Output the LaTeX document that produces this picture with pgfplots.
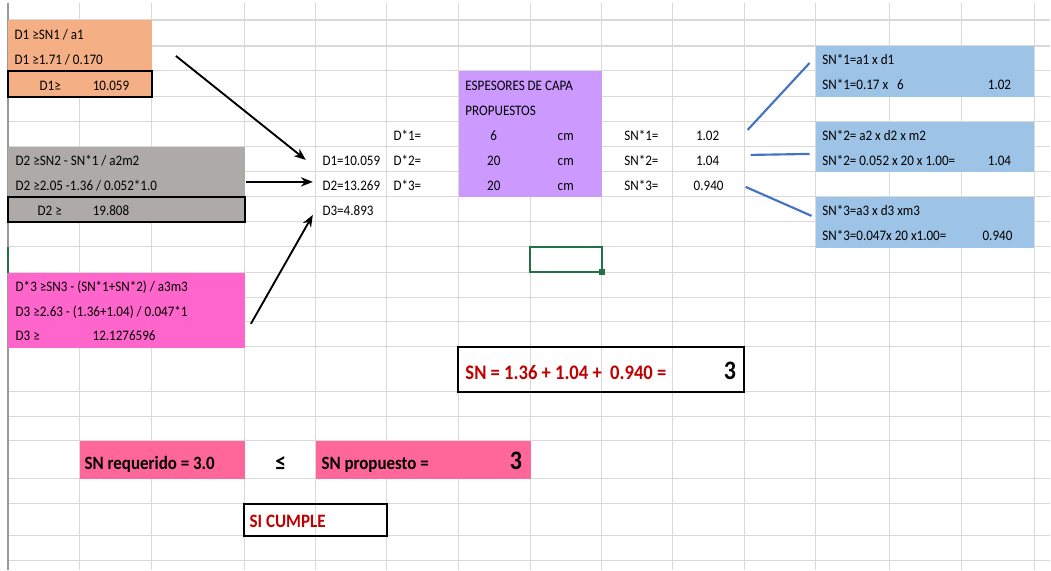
\documentclass[border=0pt]{standalone}
\usepackage{pgfplots}
\pgfplotsset{compat=1.18}
\usepackage{fontspec}
\setmainfont{Carlito}[FakeStretch=0.9]
\usetikzlibrary{arrows.meta}
\definecolor{gridgray}{HTML}{D9D9D9}
\definecolor{orangec}{HTML}{F4B084}
\definecolor{grayc}{HTML}{AEAAAA}
\definecolor{purplec}{HTML}{CC99FF}
\definecolor{bluec}{HTML}{9DC3E6}
\definecolor{pinkc}{HTML}{FF66CC}
\definecolor{pinkb}{HTML}{FF6699}
\definecolor{redc}{HTML}{C00000}
\definecolor{linec}{HTML}{4472C4}
\definecolor{selc}{HTML}{217346}
\newcommand{\nt}{\fontsize{10.9}{13}\selectfont}
\newcommand{\bt}{\fontsize{14.1}{17}\selectfont\bfseries}
\newcommand{\bs}{\fontsize{15.5}{18}\selectfont\bfseries}
\newcommand{\bc}{\fontsize{14.2}{17}\selectfont\bfseries}
\newcommand{\bigf}{\fontsize{20}{24}\selectfont\bfseries}
\begin{document}
\begin{tikzpicture}
\begin{axis}[
 scale only axis, width=788.25pt, height=427.5pt,
 xmin=0,xmax=1051,ymin=0,ymax=570, y dir=reverse,
 hide axis, clip=false,
]
% background
\addplot[draw=none, fill=white] coordinates {(0,0)(1051,0)(1051,570)(0,570)} -- cycle;
% grid
\addplot[gridgray, line width=0.8pt, unbounded coords=jump] coordinates {
(80,3)(80,570)(80,nan)(152,3)(152,570)(152,nan)(245,3)(245,570)(245,nan)
(316,3)(316,570)(316,nan)(387,3)(387,570)(387,nan)(459,3)(459,570)(459,nan)
(531,3)(531,570)(531,nan)(602,3)(602,570)(602,nan)(673,3)(673,570)(673,nan)
(745,3)(745,570)(745,nan)(816,3)(816,570)(816,nan)(890,3)(890,570)(890,nan)
(962,3)(962,570)(962,nan)(1035,3)(1035,570)(1035,nan)};
\addplot[gridgray, line width=0.8pt, unbounded coords=jump] coordinates {
(8,20)(1051,20)(nan,20)(8,46)(1051,46)(nan,46)(8,71)(1051,71)(nan,71)
(8,97)(1051,97)(nan,97)(8,122)(1051,122)(nan,122)(8,147)(1051,147)(nan,147)
(8,172)(1051,172)(nan,172)(8,197)(1051,197)(nan,197)(8,222)(1051,222)(nan,222)
(8,247)(1051,247)(nan,247)(8,273)(1051,273)(nan,273)(8,298)(1051,298)(nan,298)
(8,322)(1051,322)(nan,322)(8,347)(1051,347)(nan,347)(8,392)(1051,392)(nan,392)
(8,417)(1051,417)(nan,417)(8,441)(1051,441)(nan,441)(8,479)(1051,479)(nan,479)
(8,504)(1051,504)(nan,504)(8,536)(1051,536)(nan,536)(8,561)(1051,561)};
\addplot[color=gray!80, line width=0.8pt] coordinates {(8,3)(8,570)};
\addplot[color=selc, line width=1.2pt] coordinates {(8,247)(8,273)};
% fills
\addplot[draw=none, fill=orangec] coordinates {(8,20)(152,20)(152,97)(8,97)} -- cycle;
\addplot[draw=none, fill=grayc] coordinates {(8,147)(245,147)(245,222)(8,222)} -- cycle;
\addplot[draw=none, fill=purplec] coordinates {(459,71)(602,71)(602,197)(459,197)} -- cycle;
\addplot[draw=none, fill=bluec] coordinates {(816,46)(1035,46)(1035,97)(816,97)} -- cycle;
\addplot[draw=none, fill=bluec] coordinates {(816,122)(1035,122)(1035,172)(816,172)} -- cycle;
\addplot[draw=none, fill=bluec] coordinates {(816,197)(1035,197)(1035,248)(816,248)} -- cycle;
\addplot[draw=none, fill=pinkc] coordinates {(8,273)(245,273)(245,348)(8,348)} -- cycle;
\addplot[draw=none, fill=pinkb] coordinates {(80,441)(245,441)(245,479)(80,479)} -- cycle;
\addplot[draw=none, fill=pinkb] coordinates {(316,441)(531,441)(531,479)(316,479)} -- cycle;
% borders
\addplot[black, line width=1.5pt] coordinates {(8,71)(152,71)(152,97)(8,97)} -- cycle;
\addplot[black, line width=1.5pt] coordinates {(8,197)(245,197)(245,222)(8,222)} -- cycle;
\addplot[black, line width=1.5pt] coordinates {(458,347)(744,347)(744,392)(458,392)} -- cycle;
\addplot[black, line width=1.5pt] coordinates {(244,504)(387,504)(387,536)(244,536)} -- cycle;
\addplot[selc, line width=1.5pt] coordinates {(530,247)(602,247)(602,272)(530,272)} -- cycle;
\addplot[draw=none, fill=selc] coordinates {(599,269)(605,269)(605,275)(599,275)} -- cycle;
% arrows
\addplot[black, line width=1.4pt, -{Stealth[length=9pt,width=7pt]}] coordinates {(176,56)(306,160)};
\addplot[black, line width=1.4pt, -{Stealth[length=9pt,width=7pt]}] coordinates {(246,182)(313,182)};
\addplot[black, line width=1.4pt, -{Stealth[length=9pt,width=7pt]}] coordinates {(251,324)(313,215)};
% blue lines
\addplot[linec, line width=1.6pt] coordinates {(748,130)(810,63)};
\addplot[linec, line width=1.6pt] coordinates {(751,155)(810,154)};
\addplot[linec, line width=1.6pt] coordinates {(746,187)(812,216)};
% texts: orange
\node[anchor=base west, font=\nt] at (axis cs:10,40) {D1 ≥SN1 / a1};
\node[anchor=base west, font=\nt] at (axis cs:10,65) {D1 ≥1.71 / 0.170};
\node[anchor=base west, font=\nt] at (axis cs:35,91) {D1≥};
\node[anchor=base east, font=\nt] at (axis cs:134,91) {10.059};
% gray
\node[anchor=base west, font=\nt] at (axis cs:11,166) {D2 ≥SN2 - SN*1 / a2m2};
\node[anchor=base west, font=\nt] at (axis cs:11,191) {D2 ≥2.05 -1.36 / 0.052*1.0};
\node[anchor=base west, font=\nt] at (axis cs:33,216) {D2 ≥};
\node[anchor=base east, font=\nt] at (axis cs:134,216) {19.808};
% D values
\node[anchor=base west, font=\nt] at (axis cs:318,166) {D1=10.059};
\node[anchor=base west, font=\nt] at (axis cs:318,191) {D2=13.269};
\node[anchor=base west, font=\nt] at (axis cs:318,216) {D3=4.893};
\node[anchor=base west, font=\nt] at (axis cs:389,141) {D*1=};
\node[anchor=base west, font=\nt] at (axis cs:389,166) {D*2=};
\node[anchor=base west, font=\nt] at (axis cs:389,191) {D*3=};
% purple
\node[anchor=base west, font=\nt] at (axis cs:461,91) {ESPESORES DE CAPA};
\node[anchor=base west, font=\nt] at (axis cs:461,116) {PROPUESTOS};
\node[anchor=base, font=\nt] at (axis cs:494,141) {6};
\node[anchor=base, font=\nt] at (axis cs:494,166) {20};
\node[anchor=base, font=\nt] at (axis cs:494,191) {20};
\node[anchor=base, font=\nt] at (axis cs:566,141) {cm};
\node[anchor=base, font=\nt] at (axis cs:566,166) {cm};
\node[anchor=base, font=\nt] at (axis cs:566,191) {cm};
% SN*
\node[anchor=base west, font=\nt] at (axis cs:620,141) {SN*1=};
\node[anchor=base west, font=\nt] at (axis cs:620,166) {SN*2=};
\node[anchor=base west, font=\nt] at (axis cs:620,191) {SN*3=};
\node[anchor=base, font=\nt] at (axis cs:708,141) {1.02};
\node[anchor=base, font=\nt] at (axis cs:708,166) {1.04};
\node[anchor=base, font=\nt] at (axis cs:709,191) {0.940};
% blue boxes
\node[anchor=base west, font=\nt] at (axis cs:818,65) {SN*1=a1 x d1};
\node[anchor=base west, font=\nt] at (axis cs:818,90) {SN*1=0.17 x\ \ \ 6};
\node[anchor=base, font=\nt] at (axis cs:1000,90) {1.02};
\node[anchor=base west, font=\nt] at (axis cs:818,141) {SN*2= a2 x d2 x m2};
\node[anchor=base west, font=\nt] at (axis cs:818,166) {SN*2= 0.052 x 20 x 1.00=};
\node[anchor=base, font=\nt] at (axis cs:1000,166) {1.04};
\node[anchor=base west, font=\nt] at (axis cs:818,216) {SN*3=a3 x d3 xm3};
\node[anchor=base west, font=\nt] at (axis cs:818,241) {SN*3=0.047x 20 x1.00=};
\node[anchor=base, font=\nt] at (axis cs:998,241) {0.940};
% pink
\node[anchor=base west, font=\nt] at (axis cs:11,292) {D*3 ≥SN3 - (SN*1+SN*2) / a3m3};
\node[anchor=base west, font=\nt] at (axis cs:11,317) {D3 ≥2.63 - (1.36+1.04) / 0.047*1};
\node[anchor=base west, font=\nt] at (axis cs:11,341) {D3 ≥};
\node[anchor=base west, font=\nt] at (axis cs:88,341) {12.1276596};
% SN sum
\node[anchor=base west, font=\bs, text=redc] at (axis cs:461,380) {SN = 1.36 + 1.04 +\ \ 0.940 =};
\node[anchor=base east, font=\bigf] at (axis cs:741,380) {3};
% bottom
\node[anchor=base west, font=\bt] at (axis cs:80,470) {SN requerido = 3.0};
\node[anchor=base, font=\fontsize{18}{20}\selectfont\bfseries] at (axis cs:281,471) {≤};
\node[anchor=base west, font=\bt] at (axis cs:317,470) {SN propuesto =};
\node[anchor=base east, font=\bigf] at (axis cs:527,470) {3};
\node[anchor=base west, font=\bc, text=redc] at (axis cs:245,528) {SI CUMPLE};
\end{axis}
\end{tikzpicture}
\end{document}
